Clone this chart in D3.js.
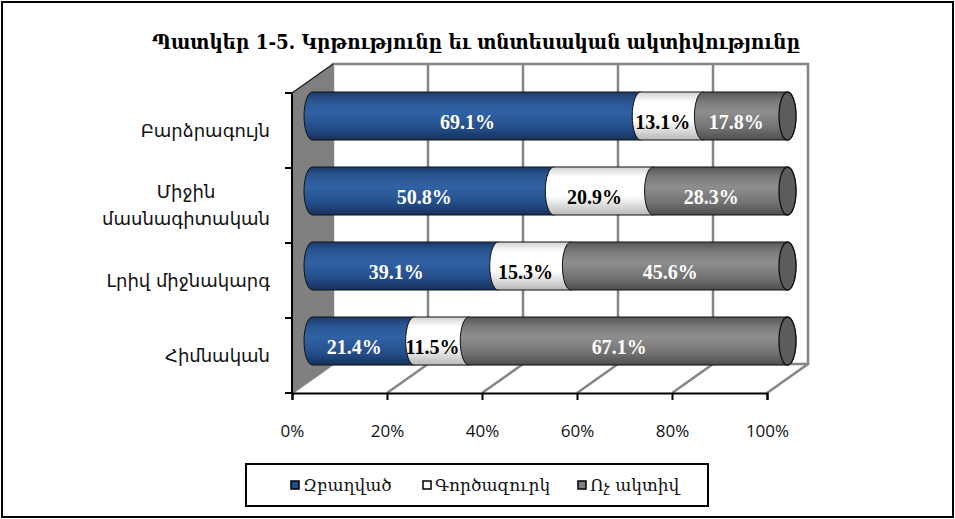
<!DOCTYPE html>
<html>
<head>
<meta charset="utf-8">
<script src="https://cdn.jsdelivr.net/npm/d3@7"></script>
<style>
  body { margin: 0; background: #fff; }
  svg { display: block; }
</style>
</head>
<body>
<div id="chart"></div>
<script>
// data
var categories = ["Բարձրագույն", "Միջին\nմասնագիտական", "Լրիվ միջնակարգ", "Հիմնական"];
var employed   = [69.1, 50.8, 39.1, 21.4];
var unemployed = [13.1, 20.9, 15.3, 11.5];
var inactive   = [17.8, 28.3, 45.6, 67.1];
var seriesNames = ["Զբաղված", "Գործազուրկ", "Ոչ ակտիվ"];
var xTicks = [0, 20, 40, 60, 80, 100];
var title = "Պատկեր 1-5. Կրթությունը եւ տնտեսական ակտիվությունը";

var W = 955, H = 519;
// 3d depth offset of the back wall
var DX = 41, DY = -29;

var svg = d3.select("#chart").append("svg")
  .attr("width", W).attr("height", H);

var defs = svg.append("defs");
function grad(id, stops) {
  var g = defs.append("linearGradient").attr("id", id)
    .attr("x1", 0).attr("y1", 0).attr("x2", 0).attr("y2", 1);
  stops.forEach(function(s) {
    g.append("stop").attr("offset", s[0]).attr("stop-color", s[1]);
  });
}
grad("gBlue",  [[0, "#1a3a68"], [0.18, "#2a5592"], [0.42, "#3162a4"], [0.75, "#244e8a"], [1, "#163158"]]);
grad("gWhite", [[0, "#d0d0d0"], [0.2, "#ffffff"], [0.6, "#ffffff"], [1, "#b8b8b8"]]);
grad("gGray",  [[0, "#555555"], [0.2, "#7a7a7a"], [0.42, "#8e8e8e"], [0.75, "#727272"], [1, "#4e4e4e"]]);

var fills = ["url(#gBlue)", "url(#gWhite)", "url(#gGray)"];
var legendFills = ["#1f4e8c", "#ffffff", "#808080"];
var labelColors = ["#ffffff", "#000000", "#ffffff"];

// outer frame
svg.append("rect")
  .attr("x", 2).attr("y", 2).attr("width", W - 4).attr("height", H - 4)
  .attr("fill", "#fff").attr("stroke", "#000").attr("stroke-width", 2);

// title
var t = svg.append("text")
  .attr("x", 476).attr("y", 49)
  .attr("text-anchor", "middle")
  .attr("font-family", "DejaVu Serif")
  .attr("font-weight", "bold")
  .attr("font-size", 21)
  .text(title);
if (t.node().getComputedTextLength() > 648) {
  t.attr("textLength", 648).attr("lengthAdjust", "spacingAndGlyphs");
}

// scales on the front plane
var x = d3.scaleLinear().domain([0, 100]).range([292, 767]);
var y = d3.scaleBand().domain(categories).range([93, 393]);
var top0 = 93, bot0 = 393;

var gridColor = "#858585";

// back wall
svg.append("rect")
  .attr("x", x(0) + DX).attr("y", top0 + DY)
  .attr("width", x(100) - x(0)).attr("height", bot0 - top0)
  .attr("fill", "#fff").attr("stroke", gridColor).attr("stroke-width", 2.5);
svg.append("g").selectAll("line")
  .data(xTicks.slice(1, -1))
  .enter().append("line")
    .attr("x1", function(d) { return x(d) + DX; })
    .attr("x2", function(d) { return x(d) + DX; })
    .attr("y1", top0 + DY).attr("y2", bot0 + DY)
    .attr("stroke", gridColor).attr("stroke-width", 2.5);

// floor
svg.append("g").selectAll("line")
  .data(xTicks)
  .enter().append("line")
    .attr("x1", function(d) { return x(d) + DX; })
    .attr("y1", bot0 + DY)
    .attr("x2", function(d) { return x(d); })
    .attr("y2", bot0)
    .attr("stroke", gridColor).attr("stroke-width", 2.5);

// left side wall
svg.append("path")
  .attr("d", "M" + x(0) + "," + top0 + "L" + (x(0) + DX) + "," + (top0 + DY) +
             "L" + (x(0) + DX) + "," + (bot0 + DY) + "L" + x(0) + "," + bot0 + "Z")
  .attr("fill", "#808080");
svg.append("line")
  .attr("x1", x(0)).attr("y1", top0).attr("x2", x(0) + DX).attr("y2", top0 + DY)
  .attr("stroke", "#222").attr("stroke-width", 1.5);

// axes
var yAxis = svg.append("g").attr("transform", "translate(" + x(0) + ",0)");
yAxis.append("line").attr("y1", top0).attr("y2", bot0).attr("stroke", "#000").attr("stroke-width", 2);
yAxis.selectAll(".tk").data(d3.range(categories.length + 1))
  .enter().append("line")
    .attr("x1", -7).attr("x2", 0)
    .attr("y1", function(i) { return top0 + i * y.bandwidth(); })
    .attr("y2", function(i) { return top0 + i * y.bandwidth(); })
    .attr("stroke", "#000").attr("stroke-width", 2);

var xAxis = svg.append("g").attr("transform", "translate(0," + bot0 + ")")
  .call(d3.axisBottom(x).tickValues(xTicks).tickSize(7).tickPadding(25)
        .tickFormat(function(d) { return d + "%"; }));
xAxis.select(".domain").attr("stroke", "#000").attr("stroke-width", 2);
xAxis.selectAll(".tick line").attr("stroke", "#000").attr("stroke-width", 2);
xAxis.selectAll(".tick text")
  .attr("font-family", "Open Sans").attr("font-size", 17).attr("fill", "#111");

// category labels: block right-aligned, lines centred inside the block
var catG = svg.append("g");
var labelRight = 270;
categories.forEach(function(c) {
  var lines = c.split("\n");
  var cy = y(c) + y.bandwidth() / 2;
  var txt = catG.append("text")
    .attr("text-anchor", "middle")
    .attr("font-family", "DejaVu Sans").attr("font-size", 18).attr("fill", "#111");
  var spans = lines.map(function(l, i) {
    return txt.append("tspan")
      .attr("y", cy + 6 + (i - (lines.length - 1) / 2) * 27)
      .text(l);
  });
  var maxW = d3.max(spans, function(s) { return s.node().getComputedTextLength(); });
  spans.forEach(function(s) { s.attr("x", labelRight - maxW / 2); });
});

// cylinders, drawn at mid depth
var series = [employed, unemployed, inactive];
var barH = y.bandwidth() * 0.64, rx = 8.5, ry = barH / 2;
var bars = svg.append("g");
var labels = svg.append("g");
categories.forEach(function(c, ci) {
  var cy = y(c) + y.bandwidth() / 2 + DY / 2;
  var yt = cy - ry, yb = cy + ry;
  var start = 0;
  series.forEach(function(s, si) {
    var v = s[ci];
    var x0 = x(start) + DX / 2, x1 = x(start + v) + DX / 2;
    bars.append("path")
      .attr("d", "M" + x0 + "," + yt + "L" + x1 + "," + yt +
                 "A" + rx + "," + ry + " 0 0 1 " + x1 + "," + yb +
                 "L" + x0 + "," + yb +
                 "A" + rx + "," + ry + " 0 0 1 " + x0 + "," + yt + "Z")
      .attr("fill", fills[si]).attr("stroke", "#111").attr("stroke-width", 1);
    labels.append("text")
      .attr("x", (x0 + x1) / 2 - 9).attr("y", cy + 6)
      .attr("dy", "0.35em")
      .attr("text-anchor", "middle")
      .attr("font-family", "Liberation Serif").attr("font-weight", "bold")
      .attr("font-size", 20).attr("fill", labelColors[si])
      .text(v.toFixed(1) + "%");
    start += v;
  });
  // end cap
  bars.append("ellipse")
    .attr("cx", x(100) + DX / 2).attr("cy", cy)
    .attr("rx", rx).attr("ry", ry)
    .attr("fill", "#5c5c5c").attr("stroke", "#111").attr("stroke-width", 1.3);
});

// legend
var lg = svg.append("g");
lg.append("rect")
  .attr("x", 246).attr("y", 464).attr("width", 462).attr("height", 42)
  .attr("fill", "#fff").attr("stroke", "#000").attr("stroke-width", 2);
var legendX = [291, 423, 578];
seriesNames.forEach(function(n, i) {
  lg.append("rect")
    .attr("x", legendX[i]).attr("y", 481).attr("width", 8).attr("height", 8)
    .attr("fill", legendFills[i]).attr("stroke", "#000").attr("stroke-width", 1.5);
  lg.append("text")
    .attr("x", legendX[i] + 12).attr("y", 485).attr("dy", "0.35em")
    .attr("font-family", "DejaVu Serif").attr("font-size", 17).attr("fill", "#111")
    .text(n);
});
</script>
</body>
</html>
